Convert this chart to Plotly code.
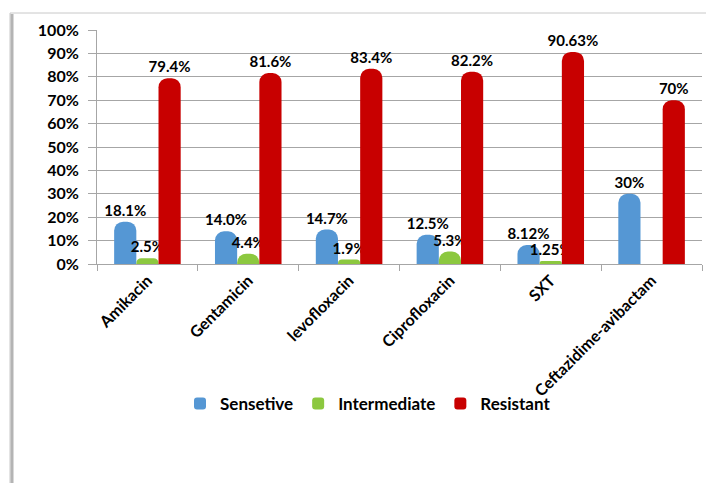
import plotly.graph_objects as go

categories = ["Amikacin", "Gentamicin", "levofloxacin", "Ciprofloxacin", "SXT", "Ceftazidime-avibactam"]
sensetive = [18.1, 14.0, 14.7, 12.5, 8.12, 30]
intermediate = [2.5, 4.4, 1.9, 5.3, 1.25, None]
resistant = [79.4, 81.6, 83.4, 82.2, 90.63, 70]
sens_labels = ["18.1%", "14.0%", "14.7%", "12.5%", "8.12%", "30%"]
inter_labels = ["2.5%", "4.4%", "1.9%", "5.3%", "1.25%", ""]
res_labels = ["79.4%", "81.6%", "83.4%", "82.2%", "90.63%", "70%"]
y_ticks = [0, 10, 20, 30, 40, 50, 60, 70, 80, 90, 100]

W, H = 706, 483
L, R, T, B = 97, 4, 30, 219
PW, PH = W - L - R, H - T - B


def px(x):
    return (x - L) / PW


def py(y):
    return (H - B - y) / PH


FONT = "Lato"
series = [
    ("Sensetive", sensetive, sens_labels, "#5597D4"),
    ("Intermediate", intermediate, inter_labels, "#8CC83F"),
    ("Resistant", resistant, res_labels, "#C80000"),
]

fig = go.Figure()
for name, vals, labels, color in series:
    fig.add_trace(go.Bar(
        name=name,
        x=categories,
        y=[v / 100 if v is not None else None for v in vals],
        text=labels,
        textposition="outside",
        constraintext="none",
        cliponaxis=False,
        textfont=dict(family=FONT, size=15, color="black", weight="bold"),
        marker=dict(color=color, line=dict(width=0), cornerradius=9),
    ))

fig.update_layout(
    width=W, height=H,
    margin=dict(l=L, r=R, t=T, b=B),
    paper_bgcolor="white",
    plot_bgcolor="white",
    barmode="group",
    bargap=0.34,
    bargroupgap=0,
    font=dict(family=FONT, color="black"),
    showlegend=True,
    legend=dict(
        orientation="h", x=px(368), xanchor="center", y=py(404), yanchor="middle",
        font=dict(family=FONT, size=17, color="black", weight="bold"),
        itemwidth=30, bgcolor="rgba(0,0,0,0)",
    ),
    xaxis=dict(
        type="category",
        tickangle=-45,
        tickson="boundaries",
        ticks="outside", ticklen=6, tickcolor="#A6A6A6",
        showline=True, linecolor="#A6A6A6", linewidth=1,
        showgrid=False,
        tickfont=dict(family=FONT, size=16, color="black", weight="bold"),
    ),
    yaxis=dict(
        range=[0, 1.0],
        tickvals=[t / 100 for t in y_ticks],
        ticktext=[f"{t}%" for t in y_ticks],
        ticks="outside", ticklen=8, tickcolor="#A6A6A6",
        ticklabelstandoff=6,
        showline=True, linecolor="#A6A6A6", linewidth=1,
        showgrid=True, gridcolor="#A6A6A6", gridwidth=1,
        zeroline=False,
        tickfont=dict(family=FONT, size=16, color="black", weight="bold"),
    ),
    shapes=[
        dict(type="rect", xref="paper", yref="paper",
             x0=px(10), x1=px(708), y0=py(13), y1=py(490),
             line=dict(color="#C8C8C8", width=1), layer="below"),
        dict(type="line", xref="paper", yref="paper",
             x0=px(12), x1=px(12), y0=py(14), y1=py(490),
             line=dict(color="#B4B4B4", width=3), layer="below"),
    ],
)

fig.write_html("out.html")
